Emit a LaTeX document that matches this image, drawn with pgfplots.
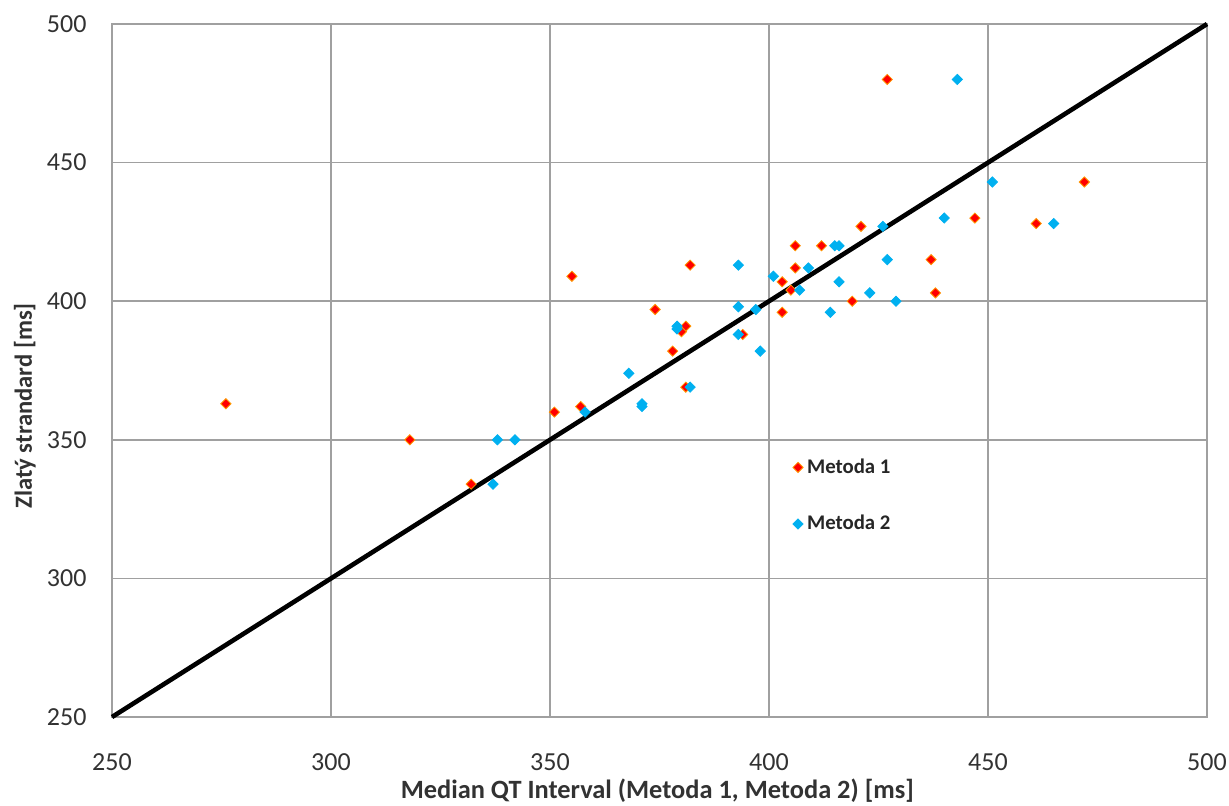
\documentclass[border=0pt]{standalone}
\usepackage{pgfplots}
\pgfplotsset{compat=1.18}
\usepackage{fontspec}
\setmainfont{Carlito}
\definecolor{mred}{RGB}{255,0,0}
\definecolor{medge}{RGB}{255,150,0}
\definecolor{mblue}{RGB}{0,176,240}
\definecolor{gridc}{RGB}{160,160,160}
\definecolor{tickc}{RGB}{50,50,50}
\begin{document}
\begin{tikzpicture}
\useasboundingbox (-56pt,-44pt) rectangle (558.5pt,358.5pt);
\begin{axis}[
  at={(0,0)}, anchor=south west,
  scale only axis,
  width=547.5pt, height=346.5pt,
  xmin=250, xmax=500, ymin=250, ymax=500,
  xtick={250,300,...,500}, ytick={250,300,...,500},
  grid=major,
  major grid style={gridc, line width=0.8pt},
  axis line style={gridc, line width=0.8pt},
  tick style={draw=none},
  /pgf/number format/assume math mode=true,
  ticklabel style={font=\fontsize{13}{15}\selectfont, text=tickc},
  xticklabel style={yshift=-15pt},
  yticklabel style={xshift=-9.2pt},
  xlabel={\textbf{Median QT Interval (Metoda 1, Metoda 2) [ms]}},
  ylabel={\textbf{Zlatý strandard [ms]}},
  xlabel style={font=\fontsize{13.2}{15}\selectfont, text=tickc, inner sep=0pt, at={(axis description cs:0.498,-0.107)}, anchor=center},
  ylabel style={font=\fontsize{12.3}{14}\selectfont, text=tickc, at={(axis description cs:-0.0795,0.449)}, anchor=center},
  clip=false,
  legend style={draw=none, fill=none, at={(0.616,0.385)}, anchor=north west,
    font=\fontsize{10.4}{12}\selectfont\bfseries, row sep=15.5pt, text=black!85},
  legend cell align=left,
]
\addplot[only marks, mark=square*, mark size=1.8pt, mark options={rotate=45, fill=mred, draw=medge, line width=0.4pt}]
 coordinates {
 (276,363) (318,350) (332,334) (351,360) (357,362) (355,409) (374,397)
 (378,382) (381,391) (380,389) (381,369) (382,413) (394,388) (403,407)
 (405,404) (403,396) (406,420) (406,412) (412,420) (421,427) (419,400)
 (427,480) (437,415) (438,403) (447,430) (461,428) (472,443)
 };
\addlegendentry{Metoda 1}
\addplot[only marks, mark=square*, mark size=1.8pt, mark options={rotate=45, fill=mblue, draw=mblue, line width=0.4pt}]
 coordinates {
 (338,350) (342,350) (337,334) (358,360) (371,363) (371,362) (368,374)
 (379,391) (379,390) (382,369) (393,413) (393,398) (393,388) (397,397)
 (398,382) (401,409) (407,404) (409,412) (443,480) (451,443) (440,430)
 (465,428) (426,427) (415,420) (416,420) (427,415) (416,407) (423,403)
 (429,400) (414,396)
 };
\addlegendentry{Metoda 2}
\addplot[black, line width=2.3pt, forget plot] coordinates {(250,250) (500,500)};
\end{axis}
\end{tikzpicture}
\end{document}
